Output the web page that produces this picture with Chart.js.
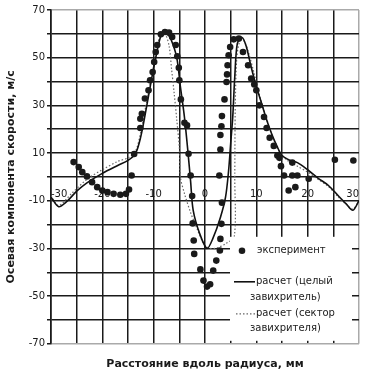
<!DOCTYPE html>
<html>
<head>
<meta charset="utf-8">
<script src="https://cdn.jsdelivr.net/npm/chart.js@4"></script>
<style>
  html, body { margin: 0; padding: 0; background: #fff; }
  #wrap { width: 371px; height: 377px; }
</style>
</head>
<body>
<div id="wrap"><canvas id="chart"></canvas></div>
<script>
const expX = [-25.6, -24.6, -23.9, -23.0, -22.0, -21.0, -20.0, -19.0, -17.8, -16.5, -15.4, -14.8, -14.3, -13.8, -12.6, -12.6, -12.3, -11.7, -11.0, -10.7, -10.2, -9.9, -9.6, -9.3, -8.6, -7.8, -7.0, -6.4, -5.7, -5.4, -5.1, -5.0, -4.7, -4.0, -3.5, -3.2, -2.8, -2.5, -2.4, -2.2, -2.1, -0.9, -0.3, 0.4, 1.0, 1.6, 2.2, 2.9, 3.0, 3.2, 3.3, 2.8, 3.0, 3.0, 3.2, 3.3, 3.8, 4.2, 4.3, 4.4, 4.6, 4.9, 5.6, 6.6, 7.4, 8.4, 9.0, 9.6, 10.0, 10.6, 11.5, 12.0, 12.6, 13.4, 14.1, 14.5, 14.8, 15.4, 16.3, 17.0, 17.0, 17.6, 18.0, 20.2, 25.3, 28.9];
const expY = [6.2, 4.1, 2.0, 0.2, -2.2, -4.3, -5.7, -6.4, -7.1, -7.5, -7.1, -5.3, 0.6, 9.6, 20.5, 24.4, 26.5, 32.9, 36.3, 40.5, 44.0, 48.2, 52.4, 55.3, 59.8, 60.8, 60.5, 58.7, 55.3, 50.6, 45.8, 40.5, 32.5, 22.7, 21.6, 9.7, 0.6, -8.0, -19.5, -26.7, -32.3, -38.8, -43.5, -46.0, -45.0, -39.3, -35.1, -30.9, -26.0, -19.7, -10.8, 0.6, 11.5, 17.6, 21.2, 25.5, 32.5, 39.8, 43.0, 46.8, 51.0, 54.5, 57.7, 58.0, 52.4, 46.8, 41.3, 38.8, 36.3, 30.0, 25.1, 20.5, 16.4, 13.0, 9.0, 8.0, 4.5, 0.6, -5.7, 6.0, 0.6, -4.3, 0.6, -0.8, 7.2, 6.9];

// calculation, whole swirler (solid)
const solidX = [-30, -28.5, -27, -25, -23, -20, -17, -15, -13.5, -12.5, -11.5, -10.5, -9.5, -8.7, -8, -7.3, -6.5, -5.5, -4.8, -4, -3.3, -2.8, -2.3, -1, 0.4, 1.5, 3, 4, 4.6, 5, 5.4, 5.8, 6.3, 7.2, 8, 9, 10, 11, 12, 13, 14, 15, 16.5, 18, 20, 22, 24, 26, 27.5, 28.8, 30];
const solidY = [-8.5, -12.5, -10.5, -6, -2.5, 1.5, 4.8, 6.9, 10, 17, 28, 40, 51, 58.5, 61, 60, 57, 50, 38, 25, 10, -2, -14, -24, -30, -26, -17, -8.5, 2.7, 14, 25, 42, 56, 58.5, 55, 46, 38, 31, 24, 18, 13, 9, 7, 6, 3, -0.5, -3.5, -8, -11.3, -14, -10];

// calculation, swirler sector (dotted)
const sectorX = [-30, -28.5, -26, -23, -20, -17, -15, -13.5, -12.5, -11.5, -10.5, -9.5, -8.7, -7.8, -7, -6.5, -6, -5.5, -5, -4.8, -4, -2.8, -1.5, -0.5, 0.4, 2, 4, 5.7, 5.8, 5.9, 6.2, 6.8, 7.6, 8.5, 9.5, 10.5, 11.5, 12.5, 13.5, 14.5, 16, 18, 20, 22, 24, 26, 27.5, 28.8, 30];
const sectorY = [-8, -12, -7, -1, 3, 6.5, 8, 11, 19, 30, 41, 52, 59.5, 60, 55, 45, 35, 24, 12, 0, -7, -15, -22, -27, -29.5, -30, -28, -25, 0, 30, 50, 57, 57, 52, 44, 35, 28, 21, 15, 10.5, 7, 4.5, 2, -1, -4, -8.5, -11.5, -13.5, -10];

const legendLines = [['эксперимент'], ['расчет (целый', 'завихритель)'], ['расчет (сектор', 'завихрителя)']];

const toPoints = (xs, ys) => xs.map((x, i) => ({ x: x, y: ys[i] }));

const ink = '#1a1a1a';
const tickFont = { family: 'DejaVu Sans', size: 10 };
const titleFont = { family: 'DejaVu Sans', size: 11, weight: 'bold' };

// legend drawn inside the plot, bottom right, on a white patch
const legendBox = {
  id: 'legendBox',
  afterDatasetsDraw(chart) {
    const { ctx, chartArea: a } = chart;
    const ds = chart.data.datasets;
    const left = a.right - 129, top = a.bottom - 107;
    ctx.save();
    ctx.fillStyle = '#fff';
    ctx.fillRect(left, top, 122, 104);
    ctx.font = '10px "DejaVu Sans"';
    ctx.fillStyle = ink;
    ctx.textBaseline = 'middle';

    ctx.beginPath();
    ctx.arc(left + 12, top + 14, ds[0].pointRadius, 0, Math.PI * 2);
    ctx.fill();
    ctx.fillText(legendLines[0][0], left + 27, top + 14);

    ctx.strokeStyle = ds[1].borderColor;
    ctx.lineWidth = ds[1].borderWidth;
    ctx.beginPath();
    ctx.moveTo(left + 4, top + 45);
    ctx.lineTo(left + 25, top + 45);
    ctx.stroke();
    ctx.fillText(legendLines[1][0], left + 26, top + 45);
    ctx.fillText(legendLines[1][1], left + 20, top + 61);

    ctx.strokeStyle = ds[2].borderColor;
    ctx.lineWidth = ds[2].borderWidth;
    ctx.setLineDash(ds[2].borderDash);
    ctx.beginPath();
    ctx.moveTo(left + 6, top + 77);
    ctx.lineTo(left + 25, top + 77);
    ctx.stroke();
    ctx.setLineDash([]);
    ctx.fillText(legendLines[2][0], left + 26, top + 77);
    ctx.fillText(legendLines[2][1], left + 20, top + 92);
    ctx.restore();
  }
};

new Chart(document.getElementById('chart'), {
  type: 'scatter',
  data: {
    datasets: [{
      label: legendLines[0].join(' '),
      data: toPoints(expX, expY),
      showLine: false,
      pointRadius: 3.3,
      pointBackgroundColor: ink,
      pointBorderWidth: 0,
      order: 0
    }, {
      label: legendLines[1].join(' '),
      data: toPoints(solidX, solidY),
      showLine: true,
      borderColor: '#111',
      borderWidth: 1.6,
      pointRadius: 0,
      tension: 0.3,
      order: 1
    }, {
      label: legendLines[2].join(' '),
      data: toPoints(sectorX, sectorY),
      showLine: true,
      borderColor: '#666',
      borderWidth: 1.2,
      borderDash: [1.5, 2],
      pointRadius: 0,
      tension: 0.3,
      order: 2
    }]
  },
  options: {
    responsive: true,
    maintainAspectRatio: false,
    animation: false,
    layout: { padding: { top: 10, right: 5, left: 0, bottom: 0 } },
    plugins: {
      legend: { display: false },
      tooltip: { enabled: false },
      title: {
        display: true,
        position: 'bottom',
        fullSize: false,
        text: 'Расстояние вдоль радиуса, мм',
        color: ink,
        font: titleFont,
        padding: { top: 14, bottom: 6 }
      }
    },
    scales: {
      x: {
        type: 'linear',
        position: { y: 0 },
        min: -30,
        max: 30,
        ticks: {
          stepSize: 5,
          align: 'inner',
          padding: 12,
          color: ink,
          font: tickFont,
          callback: v => (v % 10 === 0 ? v : '')
        },
        grid: {
          color: c => (c.tick && c.tick.value === 30 ? '#aaa' : ink),
          lineWidth: 1.5,
          drawTicks: false
        },
        border: { display: false }
      },
      y: {
        min: -70,
        max: 70,
        ticks: {
          stepSize: 10,
          padding: 2,
          color: ink,
          font: tickFont,
          callback: v => ((v + 70) % 20 === 0 ? v : '')
        },
        grid: {
          color: c => (c.tick && Math.abs(c.tick.value) === 70 ? '#aaa' : ink),
          lineWidth: 1.5,
          tickLength: 4,
          tickColor: ink
        },
        border: { color: ink, width: 1.6 },
        title: {
          display: true,
          text: 'Осевая компонента скорости, м/с',
          color: ink,
          font: titleFont,
          padding: { top: 5, bottom: 0 }
        },
        afterFit: s => { s.width = 51; }
      }
    }
  },
  plugins: [legendBox]
});
</script>
</body>
</html>
